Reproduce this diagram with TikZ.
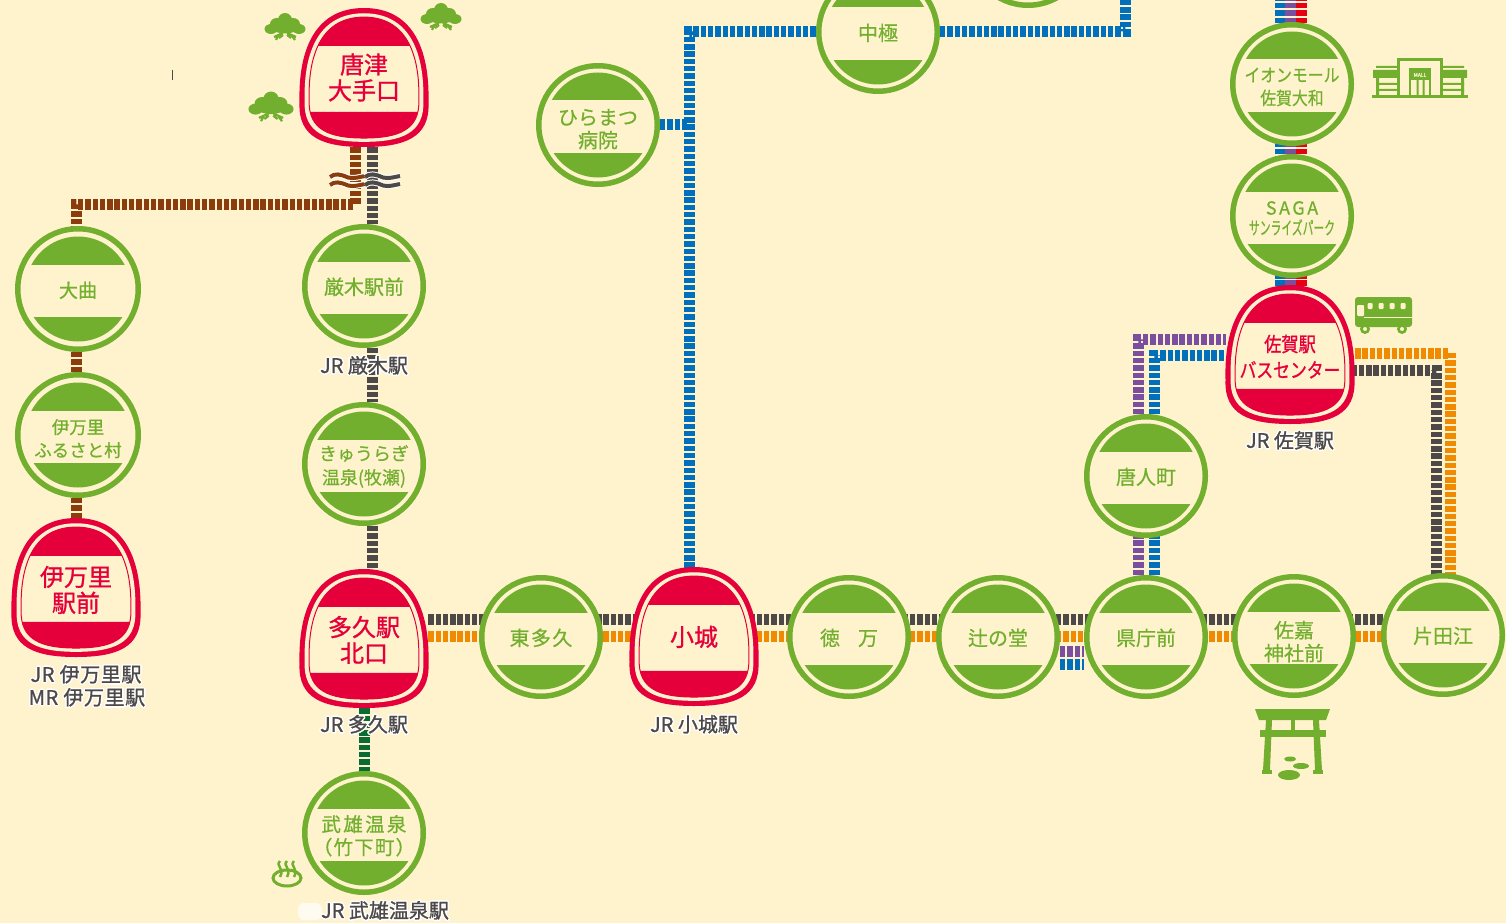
\documentclass[tikz,border=0pt]{standalone}
\usepackage{fontspec}
\usepackage[copies]{contour}
\usetikzlibrary{backgrounds}
\newfontfamily\jpfont[FakeBold=0.6]{Noto Sans CJK JP}
\newfontfamily\jpbold[FakeBold=1.1]{Noto Sans CJK JP}
\definecolor{bgcream}{HTML}{FFF3CE}
\definecolor{stgreen}{HTML}{72AF2E}
\definecolor{stred}{HTML}{E5003C}
\definecolor{railbrown}{HTML}{8A3C0C}
\definecolor{railgrey}{HTML}{4D4949}
\definecolor{railorange}{HTML}{F08A00}
\definecolor{railpurple}{HTML}{7B4FA0}
\definecolor{railblue}{HTML}{0070BC}
\definecolor{railred}{HTML}{E60012}
\definecolor{raildark}{HTML}{0A6B35}
\contourlength{1.4pt}
\tikzset{
	station/.style={circle, minimum size=118.5, inner sep=0, fill=bgcream, draw=stgreen, line width=5.5, text=stgreen, align=center,
		font=\jpfont\fontsize{20}{23}\selectfont,
		execute at begin node={\rule{0pt}{18.5pt}},
		path picture={
			\clip (path picture bounding box.center) circle (52.5);
			\fill[stgreen] ([yshift=24.5]path picture bounding box.center) ++(-60,0) rectangle ++(120,-40);
			\fill[stgreen] ([yshift=-28]path picture bounding box.center) ++(-60,0) rectangle ++(120,40);
		}},
	terminus/.style={minimum width=128, minimum height=138, inner sep=0, text=stred, align=center,
		font=\jpbold\fontsize{24}{26}\selectfont,
		execute at begin node={\rule{0pt}{30pt}}},
	rail/.style={line width=11, dash pattern=on 5.4 off 1.9},
	stlabel/.style={inner sep=0, text=railgrey, font=\jpbold\fontsize{20}{23}\selectfont},
}
\newcommand{\wide}[2]{{\addfontfeature{LetterSpace=#1}#2}}
\newcommand{\dn}[1]{\\[\dimexpr #1pt*2-\baselineskip\relax]}
\def\termshape{(0,-70) .. controls (-48,-70) and (-66,-30) .. (-64.5,25) .. controls (-66,60) and (-40,69) .. (0,69) .. controls (40,69) and (66,60) .. (64.5,25) .. controls (66,-30) and (48,-70) .. (0,-70) -- cycle}
\def\terminal#1(#2,#3)#4{
	\begin{scope}[shift={(#2,#3)}]
		\fill[stred] \termshape;
		\fill[bgcream, xscale=.92, yscale=.925] \termshape;
		\begin{scope}[xscale=.85, yscale=.87]
			\begin{scope}
				\clip \termshape;
				\fill[stred] (-70,-80) rectangle (70,-37) (-70,39) rectangle (70,80);
			\end{scope}
			\draw[stred, line width=1] \termshape;
		\end{scope}
	\end{scope}
	\node[terminus] (#1) at (#2,#3) {#4};
}
\def\pinetree(#1,#2)#3{
	\begin{scope}[shift={(#1,#2)}, scale=#3, stgreen]
		\fill (0,-8) ellipse (7 and 7);
		\fill (-8,-4) ellipse (7 and 6);
		\fill (8,-4) ellipse (7 and 6);
		\fill (-14,1) ellipse (6.5 and 5);
		\fill (14,1) ellipse (6.5 and 5);
		\fill (0,0) ellipse (13 and 5.5);
		\draw[line width=2.2] (-2,5) -- (-11,9) (-7,8) -- (-9,12) (2,5) -- (11,9) (7,8) -- (10,12) (-2,7) -- (-6,10) (2,7) -- (6,10);
	\end{scope}
}
\def\wavepath{(0,0) .. controls (5,-4) and (10,-3) .. (18,0.5) .. controls (24,2) and (29,0) .. (35,-1)}
\def\wave(#1,#2)#3{
	\begin{scope}[shift={(#1,#2)}]
		\draw[white, line width=6] \wavepath;
		\draw[#3, line width=4] \wavepath;
	\end{scope}
}
\begin{document}
\begin{tikzpicture}[x=1pt, y=-1pt]
		\useasboundingbox (0,0) rectangle (1506,923);
		%%%%% stations %%%%%
		\node[station, minimum size=120.5, font=\jpfont\fontsize{19}{23}\selectfont] (omagari) at (78,289) {大曲};
		\node[station, minimum size=120.5, font=\jpfont\fontsize{17.5}{23}\selectfont] (furusato) at (78,435) {\dn{11}伊万里\\ふるさと村};
		\terminal{imari}(76,588){\dn{12}伊万里\\駅前}
		
		\terminal{karatsu}(364,78){\dn{9.5}唐津\\大手口}
		\node[station] (kyuragi) at (364,286) {厳木駅前};
		\node[station, font=\jpfont\fontsize{18}{24}\selectfont] (makise) at (364,464) {\dn{10}きゅうらぎ\\温泉(牧瀬)};
		\terminal{taku}(364,639){\dn{11}多久駅\\北口}
		\node[station, font=\jpfont\fontsize{19.5}{23}\selectfont] (takeo) at (364,833) {\dn{11}\wide{12}{武雄温泉}\\\wide{6}{（竹下町）}};
		
		\node[station] (higashitaku) at (541,637) {\wide{7}{東多久}};
		\terminal{ogi}(694,637){\raisebox{6pt}{小城}}
		\node[station] (tokuman) at (849,637) {徳\hspace{18pt}万};
		\node[station] (tsujinodo) at (998,637) {辻の堂};
		\node[station] (kencho) at (1146,637) {県庁前};
		\node[station] (saga) at (1294,636) {\dn{14}佐嘉\\神社前};
		\node[station] (katae) at (1443,635) {片田江};
		\node[station] (tojin) at (1146,476) {唐人町};
		
		\node[station] (hiramatsu) at (598,125) {\dn{12}ひらまつ\\病院};
		\node[station] (nakagoku) at (878,32) {中極};
		\node[station] (topstop) at (1028,-54) {};
		
		\terminal{busc}(1290,355){\fontsize{20}{25}\selectfont\dn{10}\fontsize{20}{25}\selectfont\scalebox{.86}[1]{佐賀駅}\\\fontsize{20}{25}\selectfont\scalebox{.84}[1]{バスセンター}}
		\node[station] (sunrise) at (1292,216) {\dn{9}\fontsize{18}{23}\selectfont\wide{14}{SAGA}\\[-3pt]\fontsize{18}{20}\selectfont\scalebox{.6}[1]{サンライズパーク}};
		\node[station, font=\jpfont\fontsize{18}{23}\selectfont] (aeon) at (1292,84) {\dn{10}\scalebox{.88}[1]{イオンモール}\\\scalebox{.88}[1]{佐賀大和}};
		
		\coordinate (upblue) at (1125,0);
		\coordinate (ogiup) at ([xshift=-5]ogi.north);
		\coordinate (turngrey) at (1436,370);
		\coordinate (turnorange) at (1450,353);
		\coordinate (topb) at (1280,0);
		\coordinate (topp) at (1290,0);
		\coordinate (topr) at (1301,0);
		\coordinate (corner) at (76,204);
		
		%%%%% rails %%%%%
		\begin{scope}[on background layer]
			\fill[bgcream] (0,0) rectangle (1506,923);
			\draw[rail, railbrown] ([xshift=-9]karatsu.south) |- (corner) -- ([xshift=-2]omagari.north);
			\draw[rail, railbrown] ([xshift=-2]omagari.south) -- ([xshift=-2]furusato.north);
			\draw[rail, railbrown] ([xshift=-2]furusato.south) -- (imari.north);
			
			\draw[rail, railgrey] ([xshift=8]karatsu.south) -- ([xshift=8]kyuragi.north);
			\draw[rail, railgrey] ([xshift=8]kyuragi.south) -- ([xshift=8]makise.north);
			\draw[rail, railgrey] ([xshift=8]makise.south) -- ([xshift=8]taku.north);
			\draw[rail, raildark] (taku.south) -- (takeo.north);
			
			\draw[rail, railgrey] ([yshift=20]taku.east) -| (turngrey) -- ([yshift=-15]busc.east);
			\draw[rail, railorange] ([yshift=3]taku.east) -| (turnorange) -- ([yshift=2]busc.east);
			\draw[rail, railpurple] ([yshift=-14]tsujinodo.east) -- ([yshift=-14]kencho.west);
			\draw[rail, railblue] ([yshift=-27]tsujinodo.east) -- ([yshift=-27]kencho.west);
			\draw[rail, railpurple] ([xshift=-8]kencho.north) |- ([yshift=16]busc.west);
			\draw[rail, railblue] ([xshift=8]kencho.north) |- (busc.west);
			
			\draw[rail, railblue] (ogiup) |- (nakagoku);
			\draw[rail, railblue] (nakagoku) -| (upblue);
			\draw[rail, railblue] (hiramatsu) -- (ogiup |- hiramatsu);
			
			\draw[rail, railblue] (busc.north -| topb) -- (topb);
			\draw[rail, railpurple] (busc.north -| topp) -- (topp);
			\draw[rail, railred] (busc.north -| topr) -- (topr);
		\end{scope}
		
		\wave(330,177){railbrown}
		\wave(330,185){railbrown}
		\wave(365,177){railgrey}
		\wave(365,185){railgrey}
		
		%%%%% labels %%%%%
		\fill[white!70!bgcream, rounded corners=6] (298,903) rectangle (322,920);
		\node[stlabel] (lbjrimari) at (86,675) {\contour{white}{\wide{3}{JR 伊万里駅}}};
		\node[stlabel] (lbmrimari) at (87,698) {\contour{white}{\wide{3}{MR 伊万里駅}}};
		\node[stlabel] (lbkyuragi) at (364,366) {\contour{white}{JR 厳木駅}};
		\node[stlabel] (lbtaku) at (364,725) {\contour{white}{JR 多久駅}};
		\node[stlabel] (lbogi) at (694,725) {\contour{white}{JR 小城駅}};
		\node[stlabel] (lbsaga) at (1290,441) {\contour{white}{JR 佐賀駅}};
		\node[stlabel] (lbtakeo) at (385,911) {\contour{white}{JR 武雄温泉駅}};
		\draw[railgrey, line width=.7] (172,70) -- (172,80);
		
		%%%%% icons %%%%%
		\pinetree(285,28){1}
		\pinetree(441,18){1}
		\pinetree(271,108){1.1}
		
		% onsen
		\draw[stgreen, line width=3] (287,878) ellipse (14 and 8);
		\foreach \sx in {280,287,294}{
			\draw[stgreen, line width=2.5] (\sx,861) .. controls +(-5,5) and +(5,-9) .. +(0,16);
		}
		
		% torii
		\begin{scope}[stgreen]
			\fill (1255,709) -- (1330,709) -- (1326,720) -- (1259,720) -- cycle;
			\fill (1260,730) rectangle (1326,737);
			\fill (1291,720) rectangle (1295,730);
			\fill (1266,720) -- (1272,720) -- (1270,770) -- (1263,770) -- cycle;
			\fill (1313,720) -- (1319,720) -- (1322,770) -- (1315,770) -- cycle;
			\fill (1262,770) rectangle (1272,774);
			\fill (1313,770) rectangle (1323,774);
			\fill (1290,759) ellipse (6 and 2.5);
			\fill (1301,766) ellipse (8 and 3);
			\fill (1289,775) ellipse (11 and 5);
		\end{scope}
		
		% mall
		\begin{scope}[stgreen]
			\fill (1372,95) rectangle (1468,98);
			\draw[line width=3] (1398.5,96) -- (1398.5,60) -- (1441.5,60) -- (1441.5,96);
			\draw[line width=2.5] (1410,96) -- (1410,69) -- (1430,69) -- (1430,96);
			\fill (1410,69) rectangle (1430,80);
			\fill (1416.5,80) rectangle (1418.5,96) (1422.5,80) rectangle (1424.5,96);
			\fill (1376,66) rectangle (1397,68) (1443,66) rectangle (1464,68);
			\fill (1373,70) rectangle (1397,78) (1443,70) rectangle (1467,78);
			\fill (1376,78) rectangle (1379,96) (1461,78) rectangle (1464,96);
			\fill (1376,83) rectangle (1397,85) (1443,83) rectangle (1464,85);
			\fill (1376,89) rectangle (1397,91) (1443,89) rectangle (1464,91);
		\end{scope}
		\node[inner sep=0, text=bgcream, font=\jpfont\fontsize{5}{5}\selectfont] (mallsign) at (1420,75) {MALL};
		
		% bus
		\fill[stgreen, rounded corners=3] (1355,297) rectangle (1412,327);
		\fill[bgcream, rounded corners=1] (1357,305) rectangle (1364,316);
		\foreach \wx in {1370,1381,1392,1403}{
			\fill[bgcream, rounded corners=1] (\wx-2.5,303) rectangle (\wx+2.5,309);
		}
		\draw[bgcream, line width=.8] (1364,317) -- (1412,317);
		\foreach \wx in {1365,1402}{
			\fill[stgreen] (\wx,329) circle (5);
			\fill[bgcream] (\wx,329) circle (2);
		}
	\end{tikzpicture}
\end{document}
